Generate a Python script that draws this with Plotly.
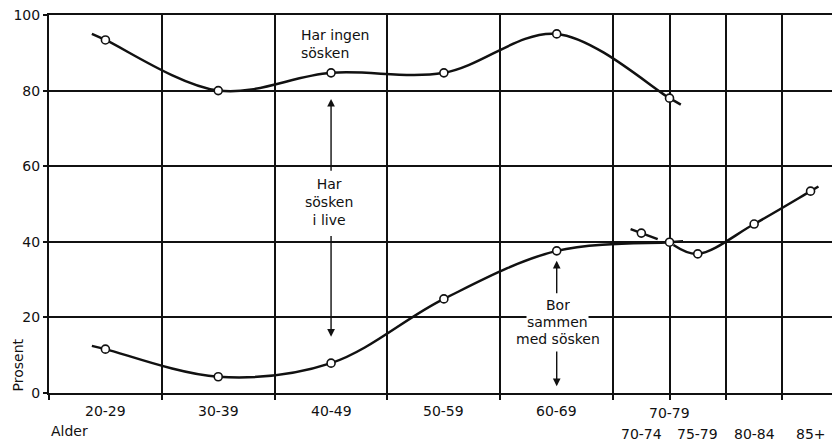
import plotly.graph_objects as go

# ---- data ----
age_groups_10 = ["20-29", "30-39", "40-49", "50-59", "60-69", "70-79"]
age_mid_10 = [25, 35, 45, 55, 65, 75]
has_siblings_alive = [93.4, 80.0, 84.7, 84.7, 95.0, 78.0]
lives_with_siblings_10 = [11.6, 4.3, 7.9, 24.9, 37.6, 39.9]

age_groups_5 = ["70-74", "75-79", "80-84", "85+"]
age_mid_5 = [72.5, 77.5, 82.5, 87.5]
lives_with_siblings_5 = [42.3, 36.8, 44.7, 53.4]

y_ticks = [0, 20, 40, 60, 80, 100]
x_grid = [20, 30, 40, 50, 60, 70, 75, 80, 85]

INK = "#111111"
FONT = "DejaVu Sans"


def extend(xs, ys, f0, f1):
    """Add the short hand-drawn tails beyond the first and last points."""
    x0 = xs[0] - f0 * (xs[1] - xs[0])
    y0 = ys[0] - f0 * (ys[1] - ys[0])
    x1 = xs[-1] + f1 * (xs[-1] - xs[-2])
    y1 = ys[-1] + f1 * (ys[-1] - ys[-2])
    return [x0] + list(xs) + [x1], [y0] + list(ys) + [y1]


def along(i, f, xs, ys):
    return xs[i] + f * (xs[i + 1] - xs[i]), ys[i] + f * (ys[i + 1] - ys[i])


fig = go.Figure()
line_style = dict(color=INK, width=2.5, shape="spline", smoothing=1.0)

ux, uy = extend(age_mid_10, has_siblings_alive, 0.12, 0.10)
fig.add_trace(go.Scatter(x=ux, y=uy, mode="lines", line=line_style, hoverinfo="skip"))

lx, ly = extend(age_mid_10, lives_with_siblings_10, 0.12, 0.12)
fig.add_trace(go.Scatter(x=lx, y=ly, mode="lines", line=line_style, hoverinfo="skip"))

# five-year series, drawn with a small break where it crosses the 70-79 point
sx, sy = extend(age_mid_5, lives_with_siblings_5, 0.19, 0.14)
a_end = along(0, 0.29, age_mid_5, lives_with_siblings_5)
b_start = along(0, 0.57, age_mid_5, lives_with_siblings_5)
fig.add_trace(go.Scatter(x=[sx[0], sx[1], a_end[0]], y=[sy[0], sy[1], a_end[1]],
                         mode="lines", line=dict(color=INK, width=2.5), hoverinfo="skip"))
fig.add_trace(go.Scatter(x=[b_start[0]] + sx[2:], y=[b_start[1]] + sy[2:],
                         mode="lines", line=line_style, hoverinfo="skip"))

marker_style = dict(symbol="circle", size=8, color="white", line=dict(color=INK, width=1.6))
fig.add_trace(go.Scatter(x=age_mid_10, y=has_siblings_alive, mode="markers", marker=marker_style))
fig.add_trace(go.Scatter(x=age_mid_10, y=lives_with_siblings_10, mode="markers", marker=marker_style))
fig.add_trace(go.Scatter(x=age_mid_5, y=lives_with_siblings_5, mode="markers", marker=marker_style))

annotations = []
tf = dict(family=FONT, size=14, color=INK)

# category labels
for g, m in zip(age_groups_10, age_mid_10):
    yrow = -0.054 if g == "70-79" else -0.047
    annotations.append(dict(x=m, y=yrow, xref="x", yref="paper", text=g, showarrow=False,
                            font=tf, xanchor="center", yanchor="middle"))
for g, m in zip(age_groups_5, age_mid_5):
    annotations.append(dict(x=m, y=-0.108, xref="x", yref="paper", text=g, showarrow=False,
                            font=tf, xanchor="center", yanchor="middle"))
annotations.append(dict(x=20, y=-0.10, xref="x", yref="paper", text="Alder", showarrow=False,
                        font=tf, xanchor="left", yanchor="middle"))
annotations.append(dict(x=-0.039, y=0.074, xref="paper", yref="paper", text="Prosent",
                        showarrow=False, font=tf, textangle=-90, xanchor="center", yanchor="middle"))

# region labels
annotations.append(dict(x=42.2, y=92.2, xref="x", yref="y", text="Har ingen<br>sösken",
                        showarrow=False, font=tf, xanchor="left", align="left", yanchor="middle"))
annotations.append(dict(x=44.8, y=50.6, xref="x", yref="y", text="Har<br>sösken<br>i live",
                        showarrow=False, font=tf, xanchor="center", align="center", yanchor="middle"))
for txt, yy, bg in [("Bor", 23.3, None), ("sammen", 18.8, "white"), ("med sösken", 14.3, None)]:
    a = dict(x=65.1, y=yy, xref="x", yref="y", text=txt, showarrow=False,
             font=tf, xanchor="center", yanchor="middle", height=13, borderpad=0)
    if bg:
        a["bgcolor"] = bg
    annotations.append(a)

# arrows
arrow = dict(xref="x", yref="y", axref="x", ayref="y", text="", showarrow=True,
             arrowhead=2, arrowsize=1.1, arrowwidth=1.4, arrowcolor=INK)
annotations.append(dict(arrow, x=45, y=77.8, ax=45, ay=58.4))
annotations.append(dict(arrow, x=45, y=14.9, ax=45, ay=41.9))
annotations.append(dict(arrow, x=65, y=35.0, ax=65, ay=26.0))
annotations.append(dict(arrow, x=65, y=1.8, ax=65, ay=11.4))

fig.update_layout(
    width=832, height=441,
    margin=dict(l=49, r=0, t=15, b=48),
    paper_bgcolor="white", plot_bgcolor="white",
    showlegend=False,
    annotations=annotations,
    font=dict(family=FONT, size=14, color=INK),
)
fig.update_xaxes(range=[20, 89.4], tickvals=x_grid, ticktext=[""] * len(x_grid),
                 showgrid=True, gridcolor=INK, gridwidth=1.6, automargin=False,
                 showline=True, linecolor=INK, linewidth=2, mirror=True,
                 ticks="outside", ticklen=5, tickwidth=1.6, tickcolor=INK, zeroline=False)
fig.update_yaxes(range=[0, 100], tickvals=y_ticks, automargin=False,
                 showgrid=True, gridcolor=INK, gridwidth=1.6,
                 showline=True, linecolor=INK, linewidth=2,
                 ticks="outside", ticklen=4, tickwidth=1.6, tickcolor=INK,
                 tickfont=dict(family=FONT, size=14, color=INK), zeroline=False)

fig.write_html("out.html", config={"displayModeBar": False},
               post_script="document.body.style.margin='0';document.body.style.overflow='hidden';")
